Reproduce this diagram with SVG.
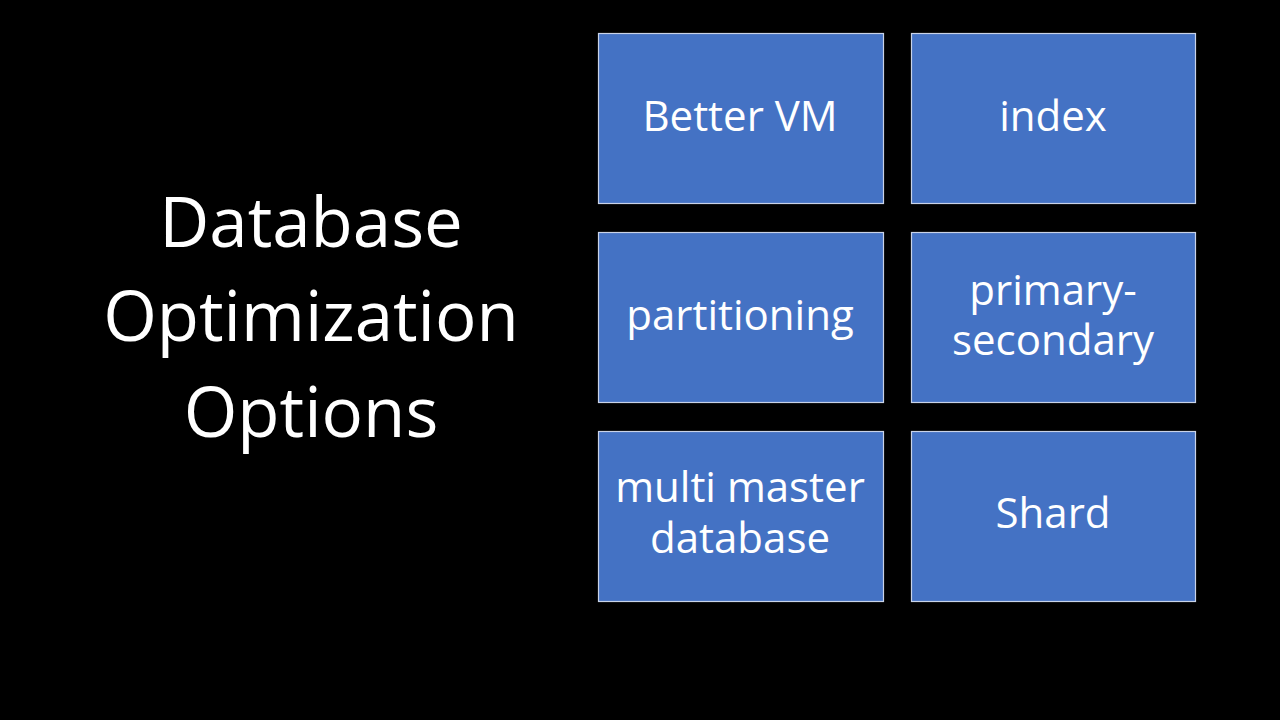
<svg xmlns="http://www.w3.org/2000/svg" width="1280" height="720" viewBox="0 0 1280 720">
<style>
.box{fill:#4472C4;stroke:#C9D3E8;stroke-width:1.2}
.t{font-family:"Open Sans","Noto Sans",sans-serif;fill:#fff;text-anchor:middle}
.b{font-size:42px}
.title{font-size:69px}
</style>
<rect width="1280" height="720" fill="#000"/>
<g id="title"><text class="t title" x="311" y="247">Database</text><text class="t title" x="311" y="341">Optimization</text><text class="t title" x="311" y="437">Options</text></g>
<g id="better-vm"><rect class="box" x="598.5" y="33.5" width="285" height="170"/><text class="t b" x="740" y="131">Better VM</text></g>
<g id="index"><rect class="box" x="911.5" y="33.5" width="284" height="170"/><text class="t b" x="1053" y="131">index</text></g>
<g id="partitioning"><rect class="box" x="598.5" y="232.5" width="285" height="170"/><text class="t b" x="740" y="330">partitioning</text></g>
<g id="primary-secondary"><rect class="box" x="911.5" y="232.5" width="284" height="170"/><text class="t b" x="1053" y="305">primary-</text><text class="t b" x="1053" y="355">secondary</text></g>
<g id="multi-master"><rect class="box" x="598.5" y="431.5" width="285" height="170"/><text class="t b" x="740" y="502">multi master</text><text class="t b" x="740" y="553">database</text></g>
<g id="shard"><rect class="box" x="911.5" y="431.5" width="284" height="170"/><text class="t b" x="1053" y="528">Shard</text></g>
<g id="connectors"/>
</svg>
